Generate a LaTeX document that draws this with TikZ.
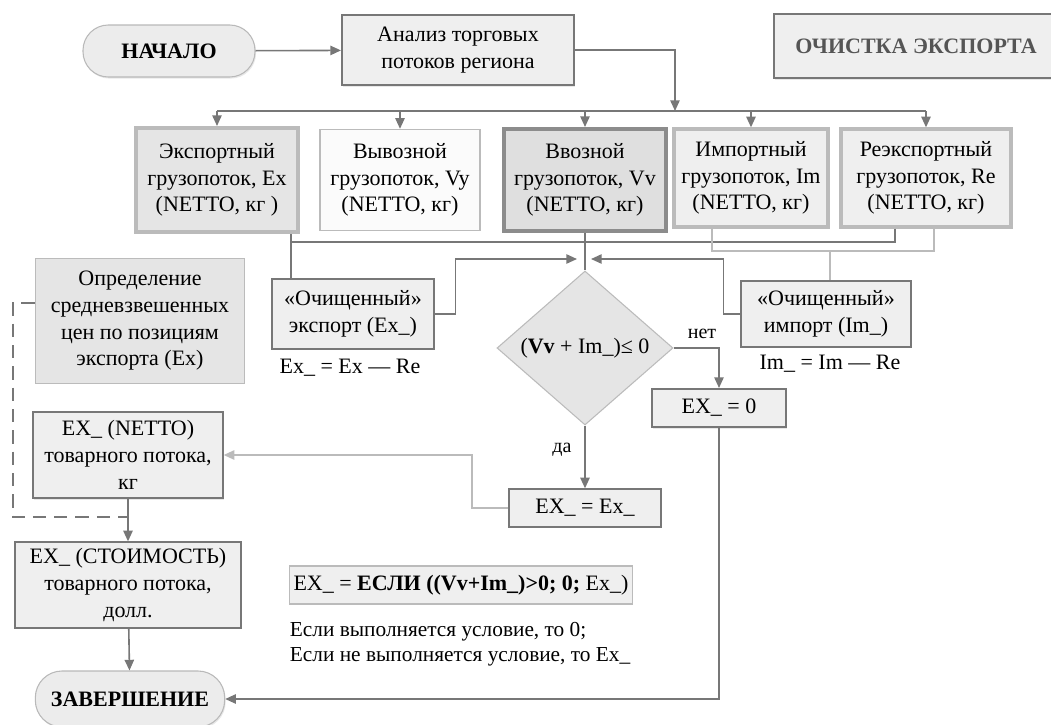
\documentclass[tikz,border=0pt]{standalone}
\usepackage{fontspec}
\setmainfont{Liberation Serif}
\usetikzlibrary{shapes.geometric,arrows.meta,shadows}
\definecolor{linegray}{HTML}{777777}
\definecolor{palegray}{HTML}{BBBBBB}
\definecolor{boxfill}{HTML}{EFEFEF}
\definecolor{titlegray}{HTML}{555555}

\begin{document}
\fontsize{16.5}{20}\selectfont
\begin{tikzpicture}[x=0.75pt, y=-0.75pt, >={Triangle[length=8pt,width=7pt]},
    ten/.style={drop shadow={shadow xshift=0.8pt, shadow yshift=-1.2pt, opacity=0.18}},
    blok/.style={draw=linegray, line width=1.5pt, fill=boxfill, ten},
    potok/.style={draw=palegray, line width=3pt, fill=boxfill, ten},
    svetlo/.style={draw=palegray, line width=0.8pt},
    pilula/.style={draw=gray!55, line width=0.8pt, fill=gray!15, rounded corners=19pt, font=\bfseries, ten},
    svyaz/.style={draw=linegray, line width=1.2pt},
    svyazsvet/.style={draw=palegray, line width=1.2pt},
    every node/.style={align=center, inner sep=2pt}]
  \useasboundingbox (0,0) rectangle (1051,725);

  % verh
  \node[pilula, minimum width=129pt, minimum height=39pt] (nachalo) at (169,51) {НАЧАЛО};
  \node[blok, minimum width=174pt, minimum height=52.5pt] (analiz) at (458,50) {Анализ торговых\\потоков региона};
  \node[blok, minimum width=213pt, minimum height=48pt, text=titlegray] (zagolovok) at (916,46) {\bfseries ОЧИСТКА ЭКСПОРТА};

  % gruzopotoki
  \node[potok, fill=gray!20, minimum width=121.5pt, minimum height=78pt] (eksport) at (217,180) {Экспортный\\грузопоток, Ex\\(NETTO, кг )};
  \node[svetlo, fill=gray!3, minimum width=120pt, minimum height=76pt] (vyvoz) at (400,180) {Вывозной\\грузопоток, Vy\\(NETTO, кг)};
  \node[draw=gray!90, line width=3pt, fill=gray!25, ten, minimum width=121pt, minimum height=76.5pt] (vvoz) at (585,180) {Ввозной\\грузопоток, Vv\\(NETTO, кг)};
  \node[potok, minimum width=115.5pt, minimum height=73pt] (import) at (751,178) {Импортный\\грузопоток, Im\\(NETTO, кг)};
  \node[potok, minimum width=127pt, minimum height=73pt] (reeksport) at (926,178) {Реэкспортный\\грузопоток, Re\\(NETTO, кг)};

  % ochistka
  \node[svetlo, fill=gray!20, minimum width=157pt, minimum height=94pt] (opred) at (140,321) {Определение\\средневзвешенных\\цен по позициям\\экспорта (Ex)};
  \node[blok, minimum width=121pt, minimum height=52pt] (ochEks) at (353,314) {«Очищенный»\\экспорт (Ex\_)};
  \node (formEks) at (350,368) {Ex\_ = Ex — Re};
  \node[blok, minimum width=127pt, minimum height=49pt] (ochImp) at (826,314) {«Очищенный»\\импорт (Im\_)};
  \node (formImp) at (830,364) {Im\_ = Im — Re};

  \node[diamond, svetlo, fill=gray!20, minimum width=132pt, minimum height=115.5pt, inner sep=0pt,
        label=center:{(\textbf{Vv} + Im\_)≤ 0}] (uslovie) at (585,348) {};
  \node[font=\fontsize{15}{18}\selectfont] (net) at (702,334) {нет};
  \node[font=\fontsize{15}{18}\selectfont] (da) at (562,450) {да};
  \node[blok, minimum width=100pt, minimum height=28.5pt] (nol) at (719,408) {EX\_ = 0};
  \node[blok, minimum width=114pt, minimum height=28pt] (ravno) at (585,508) {EX\_ = Ex\_};

  % niz
  \node[blok, minimum width=142pt, minimum height=64.5pt] (netto) at (128,455) {EX\_ (NETTO)\\товарного потока,\\кг};
  \node[blok, minimum width=169pt, minimum height=64pt] (stoimost) at (128,585) {EX\_ (СТОИМОСТЬ)\\товарного потока,\\долл.};
  \node[pilula, minimum width=142pt, minimum height=42pt, rounded corners=20pt] (konec) at (130,699) {ЗАВЕРШЕНИЕ};
  \node[svetlo, fill=boxfill, minimum width=257pt, minimum height=28.5pt] (formula) at (461,585) {EX\_ = \textbf{ЕСЛИ ((Vv+Im\_)>0; 0;} Ex\_)};
  \node[align=left, anchor=north west, font=\fontsize{16}{19}\selectfont] (poyasnenie) at (287,619) {Если выполняется условие, то 0;\\Если не выполняется условие, то Ex\_};

  \coordinate (shina) at (675,111);
  \coordinate (jEks) at (291,242);
  \coordinate (jRe) at (895,242);
  \coordinate (jImL) at (712,251);
  \coordinate (jIm) at (830,251);
  \coordinate (jImR) at (934,251);
  \coordinate (vhodL) at (577,259);
  \coordinate (vhodR) at (591,259);
  \coordinate (jDash) at (128,517);

  \draw[svyaz,->] (nachalo) -- (analiz);
  \draw[svyaz,->] (analiz.east) -| (shina);
  \draw[svyaz] (eksport.north |- shina) -- (reeksport.north |- shina);
  \foreach \n in {eksport,vyvoz,vvoz,import,reeksport}
    \draw[svyaz,->] (\n.north |- shina) -- (\n.north);

  \draw[svyaz] (jEks |- eksport.south) -- (jEks |- ochEks.north);
  \draw[svyaz] (jRe |- reeksport.south) -- (jRe) -- (jEks);
  \draw[svyazsvet] (jImL |- import.south) -- (jImL) -- (jImR) -- (jImR |- reeksport.south);
  \draw[svyazsvet] (jIm) -- (jIm |- ochImp.north);
  \draw[svyaz] (vvoz.south) -- (uslovie.north);
  \draw[svyaz,->] (ochEks.east) -- ++(21,0) |- (vhodL);
  \draw[svyaz,->] (ochImp.west) -- ++(-17,0) |- (vhodR);

  \draw[svyaz,->] (uslovie.east) -| (nol.north);
  \draw[svyaz,->] (uslovie.south) -- (ravno.north);
  \draw[svyazsvet,->] (ravno.west) -- ++(-36,0) |- (netto.east);
  \draw[svyaz,->] (nol.south) |- (konec.east);
  \draw[svyaz,->] (netto) -- (stoimost);
  \draw[svyaz,->] (stoimost) -- (konec);
  \draw[svyaz, dash pattern=on 10pt off 6pt] ([yshift=13.5pt]opred.west) -- ++(-22,0) |- (jDash);
\end{tikzpicture}
\end{document}
